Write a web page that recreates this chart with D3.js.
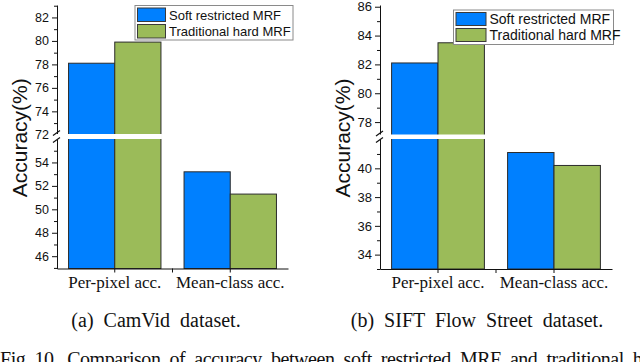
<!DOCTYPE html>
<html>
<head>
<meta charset="utf-8">
<script src="https://cdn.jsdelivr.net/npm/d3@7"></script>
<style>
  html, body { margin: 0; padding: 0; background: #fff; }
  svg { display: block; }
</style>
</head>
<body>
<svg id="chart" width="640" height="362"></svg>
<script>
// ---------- DATA ----------
const categories = ["Per-pixel acc.", "Mean-class acc."];
const seriesNames = ["Soft restricted MRF", "Traditional hard MRF"];

const camvidSoft = [78.1, 53.2];
const camvidHard = [79.9, 51.3];
const camvidUpperTicks = [72, 74, 76, 78, 80, 82];
const camvidLowerTicks = [46, 48, 50, 52, 54];
const camvidUpperDomain = [71.9, 83.06];
const camvidLowerDomain = [44.95, 56.0];

const siftSoft = [82.1, 41.1];
const siftHard = [83.5, 40.2];
const siftUpperTicks = [78, 80, 82, 84, 86];
const siftLowerTicks = [34, 36, 38, 40];
const siftUpperDomain = [77.0, 86.12];
const siftLowerDomain = [33.0, 42.04];

const captions = ["(a)  CamVid  dataset.", "(b)  SIFT  Flow  Street  dataset."];
const figText = "Fig. 10.  Comparison  of  accuracy  between  soft  restricted  MRF  and  traditional  hard  MRF.";

// ---------- STYLE ----------
const colors = ["#0080ff", "#9bbb59"];
const svg = d3.select("#chart");

function panel(opt) {
  const g = svg.append("g");
  const x = d3.scaleBand().domain(categories).range([opt.x0, opt.x1]);
  const xs = d3.scaleBand().domain(seriesNames).range([0, x.bandwidth() * 0.8]);
  const yU = d3.scaleLinear().domain(opt.upperDomain).range([opt.breakTop + 2, opt.top]);
  const yL = d3.scaleLinear().domain(opt.lowerDomain).range([opt.bottom, opt.breakBot]);

  const series = [opt.soft, opt.hard];
  // bars
  categories.forEach((c, ci) => {
    series.forEach((vals, si) => {
      const v = vals[ci];
      const bx = x(c) + x.bandwidth() * 0.1 + xs(seriesNames[si]);
      let yt;
      if (v > opt.upperDomain[0]) yt = yU(v); else yt = yL(v);
      g.append("rect")
        .attr("x", bx).attr("y", yt)
        .attr("width", xs.bandwidth()).attr("height", yL(opt.lowerDomain[0]) - yt)
        .attr("fill", colors[si]).attr("stroke", "#2b2b2b").attr("stroke-width", 1);
    });
  });

  // y axes (major + minor) for each segment
  const fontSize = opt.tickFont;
  function yAxis(scale, ticks, dom) {
    const minor = [];
    for (let t = Math.ceil(dom[0]); t <= Math.floor(dom[1]); t++) if (t % 2 !== 0) minor.push(t);
    const ga = g.append("g").attr("transform", `translate(${opt.x0},0)`)
      .call(d3.axisLeft(scale).tickValues(ticks).tickSize(5).tickSizeOuter(0).tickPadding(3));
    ga.selectAll("text").attr("font-family", "Arial, 'Liberation Sans', sans-serif")
      .attr("font-size", fontSize).attr("fill", "#111");
    ga.selectAll("line, path").attr("stroke", "#111");
    const gm = g.append("g").attr("transform", `translate(${opt.x0},0)`)
      .call(d3.axisLeft(scale).tickValues(minor).tickSize(3).tickSizeOuter(0).tickFormat(""));
    gm.select("path").remove();
    gm.selectAll("line").attr("stroke", "#111");
  }
  yAxis(yU, opt.upperTicks, opt.upperDomain);
  yAxis(yL, opt.lowerTicks, opt.lowerDomain);

  // break gap
  const lastBarRight = x(categories[0]) + x.bandwidth() * 0.9;
  g.append("rect").attr("x", opt.x0 - 6).attr("y", opt.breakTop)
    .attr("width", lastBarRight - opt.x0 + 7).attr("height", opt.breakBot - opt.breakTop)
    .attr("fill", "#fff");
  [opt.breakTop - 1, opt.breakBot + 1].forEach(yy => {
    g.append("line").attr("x1", opt.x0 - 4).attr("y1", yy + 2.5)
      .attr("x2", opt.x0 + 3).attr("y2", yy - 2.5)
      .attr("stroke", "#111").attr("stroke-width", 1.2);
  });

  // x axis
  const yB = yL(opt.lowerDomain[0]);
  const gx = g.append("g").attr("transform", `translate(0,${yB})`)
    .call(d3.axisBottom(x).tickSize(4).tickSizeOuter(0).tickPadding(3));
  gx.selectAll("line, path").attr("stroke", "#111");
  gx.selectAll("text").attr("font-family", "'Liberation Serif', 'Times New Roman', serif")
    .attr("font-size", 17).attr("fill", "#111");
  g.append("line").attr("x1", x(categories[1])).attr("x2", x(categories[1]))
    .attr("y1", yB).attr("y2", yB + 4).attr("stroke", "#111");

  // y label
  g.append("text")
    .attr("transform", `translate(${opt.labelX},${(opt.top + opt.bottom) / 2 + 1}) rotate(-90)`)
    .attr("text-anchor", "middle")
    .attr("font-family", "Arial, 'Liberation Sans', sans-serif")
    .attr("font-size", 21).attr("fill", "#111")
    .text("Accuracy(%)");

  // legend
  const lg = g.append("g");
  lg.append("rect").attr("x", opt.leg.x).attr("y", opt.leg.y)
    .attr("width", opt.leg.w).attr("height", opt.leg.h)
    .attr("fill", "#fff").attr("stroke", "#8a8a8a").attr("stroke-width", 1);
  seriesNames.forEach((s, i) => {
    const yy = opt.leg.y + 2.5 + i * opt.leg.row;
    lg.append("rect").attr("x", opt.leg.x + 2.5).attr("y", yy)
      .attr("width", opt.leg.sw).attr("height", opt.leg.row - 3)
      .attr("fill", colors[i]).attr("stroke", "#3a3a3a").attr("stroke-width", 1);
    lg.append("text").attr("x", opt.leg.x + opt.leg.sw + 6).attr("y", yy + opt.leg.row - 5)
      .attr("font-family", "Arial, 'Liberation Sans', sans-serif")
      .attr("font-size", opt.leg.font).attr("fill", "#111").text(s);
  });

  // caption
  g.append("text").attr("x", opt.capX).attr("y", 327).attr("text-anchor", "middle")
    .attr("font-family", "'Liberation Serif', 'Times New Roman', serif")
    .attr("font-size", 20).attr("fill", "#111").attr("xml:space", "preserve")
    .style("white-space", "pre").text(opt.caption);
}

panel({
  x0: 57, x1: 288, top: 5, bottom: 268.5, breakTop: 134, breakBot: 139,
  upperDomain: camvidUpperDomain, lowerDomain: camvidLowerDomain,
  upperTicks: camvidUpperTicks, lowerTicks: camvidLowerTicks,
  soft: camvidSoft, hard: camvidHard, tickFont: 12.5, labelX: 27,
  leg: { x: 135, y: 5.5, w: 158, h: 34.5, row: 16.5, sw: 28, font: 13 },
  capX: 156, caption: captions[0]
});

panel({
  x0: 380, x1: 612, top: 5, bottom: 269, breakTop: 134.5, breakBot: 139,
  upperDomain: siftUpperDomain, lowerDomain: siftLowerDomain,
  upperTicks: siftUpperTicks, lowerTicks: siftLowerTicks,
  soft: siftSoft, hard: siftHard, tickFont: 13, labelX: 350,
  leg: { x: 453.5, y: 10, w: 160, h: 34.5, row: 16, sw: 30, font: 14 },
  capX: 477, caption: captions[1]
});

svg.append("text").attr("x", 0).attr("y", 366)
  .attr("font-family", "'Liberation Serif', 'Times New Roman', serif")
  .attr("font-size", 20).attr("fill", "#111")
  .attr("textLength", 720).attr("lengthAdjust", "spacing")
  .style("white-space", "pre").text(figText);
</script>
</body>
</html>
